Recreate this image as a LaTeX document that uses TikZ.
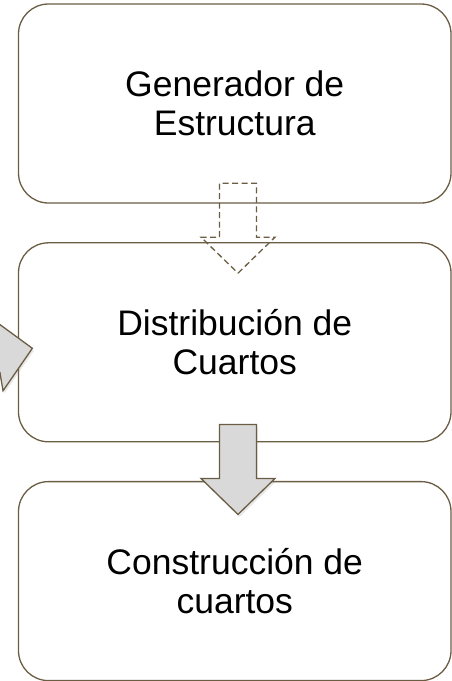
\documentclass[tikz,border=0pt]{standalone}
\usepackage{fontspec}
\setmainfont{Liberation Sans}
\usetikzlibrary{positioning,calc,shadows}
\definecolor{boxline}{RGB}{107,93,68}
\definecolor{arrowfill}{RGB}{217,217,217}
% block arrow with its tip at #2, pointing down before rotation by #3
\newcommand\stagearrow[3]{%
  \path[#1, shift={#2}, rotate=#3] (0,0) -- (37pt,36pt) -- (18.5pt,36pt) -- (18.5pt,90pt)
    -- (-18.5pt,90pt) -- (-18.5pt,36pt) -- (-37pt,36pt) -- cycle;}
\tikzset{
  stage/.style={draw=boxline, line width=1.3pt, rounded corners=30pt, fill=white,
    minimum width=432.5pt, minimum height=199pt, align=center,
    font=\fontsize{35.5}{39}\selectfont},
  flow/.style={draw=boxline, line width=1.3pt, fill=arrowfill,
    drop shadow={opacity=0.18, shadow xshift=1.5pt, shadow yshift=-2.5pt}},
  weakflow/.style={draw=boxline, line width=1.3pt, dash pattern=on 6pt off 3.5pt}
}
\begin{document}
\begin{tikzpicture}
  \useasboundingbox (0,0) rectangle (452pt,-681pt);
  \clip (0,0) rectangle (452pt,-681pt);

  \node[stage] (gen) at (234.75pt,-103.5pt) {Generador de\\Estructura};
  \node[stage, below=38.5pt of gen] (dist) {Distribución de\\Cuartos};
  \node[stage, below=38.5pt of dist] (cons) {Construcción de\\cuartos};

  \coordinate (t1) at ($(dist.north)+(3.25pt,-31pt)$);
  \coordinate (t2) at ($(cons.north)+(3.25pt,-33.5pt)$);
  \coordinate (t3) at ($(dist.west)+(14.5pt,-6pt)$);

  \stagearrow{weakflow}{(t1)}{0}
  \stagearrow{flow}{(t2)}{0}
  \stagearrow{flow}{(t3)}{99.6}
\end{tikzpicture}
\end{document}
